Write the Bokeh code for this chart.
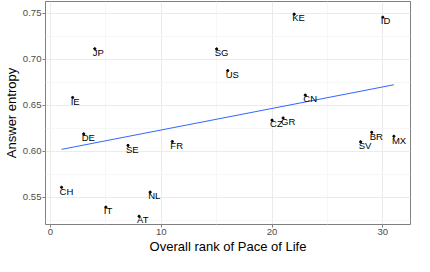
import numpy as np
from bokeh.plotting import figure
from bokeh.models import Range1d, FixedTicker, ColumnDataSource
from bokeh.core.properties import value
from bokeh.embed import file_html
from bokeh.resources import INLINE

countries = ["KE", "ID", "JP", "SG", "US", "IE", "CN", "CZ", "GR", "DE",
             "SE", "FR", "BR", "SV", "MX", "CH", "NL", "IT", "AT"]
pace_rank = [22, 30, 4, 15, 16, 2, 23, 20, 21, 3, 7, 11, 29, 28, 31, 1, 9, 5, 8]
entropy = [0.7487, 0.7454, 0.7112, 0.7110, 0.6874, 0.6583, 0.6609, 0.6337, 0.6361, 0.6188,
           0.6063, 0.6105, 0.6205, 0.6102, 0.6162, 0.5608, 0.5556, 0.5393, 0.5294]

x_ticks = [0, 10, 20, 30]
x_minor = [5, 15, 25]
y_ticks = [0.55, 0.60, 0.65, 0.70, 0.75]
y_minor = [0.525, 0.575, 0.625, 0.675, 0.725]

FONT = "Liberation Sans"

p = figure(width=414, height=256, output_backend="svg", toolbar_location=None,
           x_range=Range1d(-0.45, 32.5), y_range=Range1d(0.5205, 0.7625),
           min_border_left=0, min_border_right=4, min_border_top=1, min_border_bottom=0)
p.background_fill_color = "white"
p.border_fill_color = "white"
p.outline_line_color = "#7f7f7f"
p.outline_line_width = 1

p.xaxis.ticker = FixedTicker(ticks=x_ticks, minor_ticks=x_minor)
p.yaxis.ticker = FixedTicker(ticks=y_ticks, minor_ticks=y_minor)
p.yaxis.major_label_overrides = {t: f"{t:.2f}" for t in y_ticks}

for ax in (p.xaxis, p.yaxis):
    ax.axis_line_color = None
    ax.major_tick_line_color = "#7f7f7f"
    ax.major_tick_out = 3
    ax.major_tick_in = 0
    ax.minor_tick_out = 0
    ax.minor_tick_in = 0
    ax.major_label_text_font = FONT
    ax.major_label_text_font_size = "9.6px"
    ax.major_label_text_color = "#4d4d4d"
    ax.major_label_standoff = 1
    ax.axis_label_text_font = FONT
    ax.axis_label_text_font_size = "13px"
    ax.axis_label_text_font_style = "normal"
    ax.axis_label_text_color = "black"
    ax.axis_label_standoff = 1

p.xaxis.axis_label = "Overall rank of Pace of Life"
p.yaxis.axis_label = "Answer entropy"

p.xgrid.grid_line_color = "#ebebeb"
p.ygrid.grid_line_color = "#ebebeb"
p.xgrid.minor_grid_line_color = "#f7f7f7"
p.ygrid.minor_grid_line_color = "#f7f7f7"

# regression line from the data
slope, intercept = np.polyfit(pace_rank, entropy, 1)
xs = [min(pace_rank), max(pace_rank)]
p.line(xs, [intercept + slope * x for x in xs], line_color="#3366FF", line_width=1)

src = ColumnDataSource(dict(x=pace_rank, y=entropy, label=countries))
p.scatter("x", "y", source=src, size=2.2, color="black")
p.text("x", "y", text="label", source=src, text_font=value(FONT),
       text_font_size="9.5px", text_color="black", text_align="left",
       text_baseline="top", x_offset=-2, y_offset=-1.8)

open("out.html", "w").write(file_html(p, INLINE))
